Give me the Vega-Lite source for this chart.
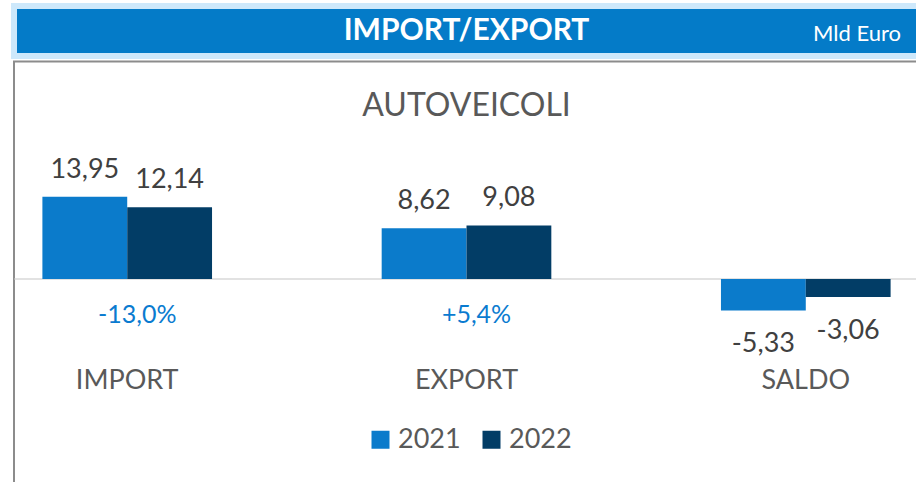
{
  "$schema": "https://vega.github.io/schema/vega-lite/v6.json",
  "padding": {"left": 11, "top": 3, "right": 0, "bottom": 0},
  "spacing": 1.5,
  "config": {
    "view": {"stroke": null},
    "font": "Lato"
  },
  "datasets": {
    "bars": [
      {"cat": "IMPORT", "year": "2021", "value": 13.95},
      {"cat": "IMPORT", "year": "2022", "value": 12.14},
      {"cat": "EXPORT", "year": "2021", "value": 8.62},
      {"cat": "EXPORT", "year": "2022", "value": 9.08},
      {"cat": "SALDO", "year": "2021", "value": -5.33},
      {"cat": "SALDO", "year": "2022", "value": -3.06}
    ],
    "cats": [
      {"cat": "IMPORT", "change": -0.13},
      {"cat": "EXPORT", "change": 0.054},
      {"cat": "SALDO", "change": null}
    ],
    "header": [
      {"title": "IMPORT/EXPORT", "unit": "Mld Euro"}
    ]
  },
  "vconcat": [
    {
      "width": 905,
      "height": 50,
      "view": {"fill": "#047bc8", "stroke": "#cde8fb", "strokeWidth": 6},
      "data": {"name": "header"},
      "layer": [
        {
          "mark": {"type": "text", "font": "Lato", "fontWeight": "bold", "fontSize": 30, "fill": "#ffffff", "baseline": "middle"},
          "encoding": {"text": {"field": "title", "type": "nominal"}}
        },
        {
          "mark": {"type": "text", "font": "Lato", "fontSize": 22, "fill": "#ffffff", "align": "right", "baseline": "middle", "dx": -18, "dy": 3},
          "encoding": {"text": {"field": "unit", "type": "nominal"}, "x": {"value": "width"}}
        }
      ]
    },
    {
      "width": 905,
      "height": 425,
      "view": {"stroke": "#8c8c8c", "strokeWidth": 2},
      "title": {"text": "AUTOVEICOLI", "offset": -86, "baseline": "alphabetic", "fontSize": 32, "font": "Lato", "fontWeight": "normal", "color": "#595959", "anchor": "middle"},
      "layer": [
        {
          "data": {"name": "bars"},
          "mark": {"type": "bar"},
          "encoding": {
            "x": {"field": "cat", "type": "nominal", "axis": null,
                  "scale": {"domain": ["IMPORT", "EXPORT", "SALDO"], "paddingInner": 0.5, "paddingOuter": 0.0837}},
            "xOffset": {"field": "year", "type": "nominal"},
            "y": {"field": "value", "type": "quantitative", "stack": null,
                  "axis": {"values": [0], "grid": true, "gridColor": "#d9d9d9", "gridWidth": 1.5, "domain": false, "ticks": false, "labels": false, "title": null},
                  "scale": {"domain": [-35.17, 36.86], "nice": false, "zero": false}},
            "color": {"field": "year", "type": "nominal",
                      "scale": {"domain": ["2021", "2022"], "range": ["#0b7bcb", "#023d66"]},
                      "legend": {"orient": "none", "legendX": 353, "legendY": 420, "direction": "horizontal", "title": null,
                                 "symbolType": "square", "symbolSize": 324, "symbolStrokeWidth": 0, "symbolOpacity": 1,
                                 "labelFontSize": 27, "labelFont": "Lato", "labelColor": "#595959", "labelOffset": 4,
                                 "columnPadding": 17, "padding": 0}}
          }
        },
        {
          "data": {"name": "bars"},
          "transform": [
            {"filter": "datum.year == '2021' && datum.value > 0"},
            {"calculate": "replace(replace(format(datum.value, '.2f'), '.', ','), '\u2212', '-')", "as": "label"}
          ],
          "mark": {"type": "text", "font": "Lato", "fontSize": 27, "fill": "#404040", "baseline": "alphabetic", "dx": -42.4, "dy": -19},
          "encoding": {
            "x": {"field": "cat", "type": "nominal"},
            "y": {"field": "value", "type": "quantitative"},
            "text": {"field": "label", "type": "nominal"}
          }
        },
        {
          "data": {"name": "bars"},
          "transform": [
            {"filter": "datum.year == '2022' && datum.value > 0"},
            {"calculate": "replace(replace(format(datum.value, '.2f'), '.', ','), '\u2212', '-')", "as": "label"}
          ],
          "mark": {"type": "text", "font": "Lato", "fontSize": 27, "fill": "#404040", "baseline": "alphabetic", "dx": 42.4, "dy": -19},
          "encoding": {
            "x": {"field": "cat", "type": "nominal"},
            "y": {"field": "value", "type": "quantitative"},
            "text": {"field": "label", "type": "nominal"}
          }
        },
        {
          "data": {"name": "bars"},
          "transform": [
            {"filter": "datum.year == '2021' && datum.value < 0"},
            {"calculate": "replace(replace(format(datum.value, '.2f'), '.', ','), '\u2212', '-')", "as": "label"}
          ],
          "mark": {"type": "text", "font": "Lato", "fontSize": 27, "fill": "#404040", "baseline": "alphabetic", "dx": -42.4, "dy": 42},
          "encoding": {
            "x": {"field": "cat", "type": "nominal"},
            "y": {"field": "value", "type": "quantitative"},
            "text": {"field": "label", "type": "nominal"}
          }
        },
        {
          "data": {"name": "bars"},
          "transform": [
            {"filter": "datum.year == '2022' && datum.value < 0"},
            {"calculate": "replace(replace(format(datum.value, '.2f'), '.', ','), '\u2212', '-')", "as": "label"}
          ],
          "mark": {"type": "text", "font": "Lato", "fontSize": 27, "fill": "#404040", "baseline": "alphabetic", "dx": 42.4, "dy": 42},
          "encoding": {
            "x": {"field": "cat", "type": "nominal"},
            "y": {"field": "value", "type": "quantitative"},
            "text": {"field": "label", "type": "nominal"}
          }
        },
        {
          "data": {"name": "cats"},
          "transform": [
            {"filter": "datum.change != null"},
            {"calculate": "replace(replace(format(datum.change, '+.1%'), '.', ','), '\u2212', '-')", "as": "label"}
          ],
          "mark": {"type": "text", "font": "Lato", "fontSize": 25, "fill": "#0a7bd0", "baseline": "alphabetic", "dy": 44.5, "dx": 10},
          "encoding": {
            "x": {"field": "cat", "type": "nominal"},
            "y": {"datum": 0, "type": "quantitative"},
            "text": {"field": "label", "type": "nominal"}
          }
        },
        {
          "data": {"name": "cats"},
          "mark": {"type": "text", "font": "Lato", "fontSize": 27, "fill": "#595959", "baseline": "alphabetic", "dy": 110.5},
          "encoding": {
            "x": {"field": "cat", "type": "nominal"},
            "y": {"datum": 0, "type": "quantitative"},
            "text": {"field": "cat", "type": "nominal"}
          }
        }
      ]
    }
  ]
}
